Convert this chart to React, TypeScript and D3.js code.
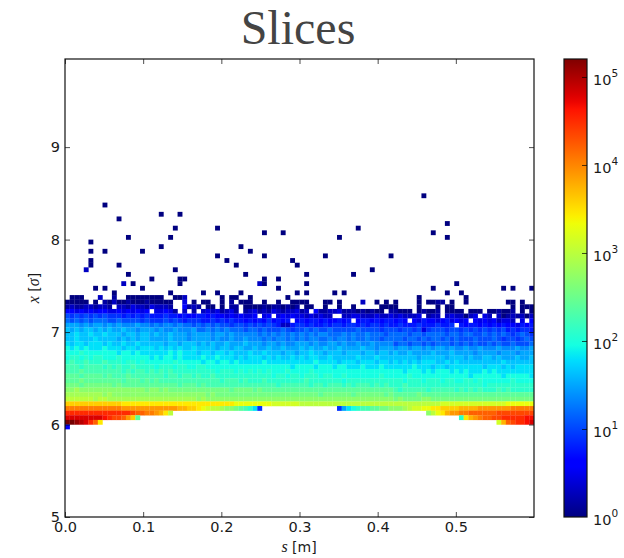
import React, { useRef, useEffect } from 'react';
import * as d3 from 'd3';

const sTicks = [0, 0.1, 0.2, 0.3, 0.4, 0.5];
const xTicks = [5, 6, 7, 8, 9];
const cbarTicks = [1, 10, 100, 1000, 10000, 100000];

// bin sizes of the histogram
const sBin = 0.006;
const xBin = 0.05;
const xFirst = 5;

// dense part of the histogram, top row first. one char per column, level = log10(count)/0.15, '.' = empty
const topDenseRow = 47;
const denseRows = [
  '.000...2.. 1..0000000 0..002.... ...0.00..0 .......0.. .......... .......... .....0.... .....0.... ..........',
  '00000.0.10 2001000100 000..3.0.0 0..0.1.000 ..0..0..00 00...00.0. ...2..0.0. 0....0.001 1.0..0.... ....00.0..',
  '1211221221 .221322132 221..4121. 00.0.11.00 0010110101 .00..0..0. .0.....000 0....0...0 .00....... .....0.000',
  '4434343443 34343434.3 3431.2.1.2 3231231.12 3121321223 12.4112231 11010100.1 1000.01001 .0000.000. 001001.0.0',
  '7676767676 6656565655 5655454455 4544343433 4.34.34343 3232322..2 2332223223 232223.122 .2322023.3 2.20121202',
  '8787878887 7877776766 6767656665 5656565545 45464545.4 5455454454 5.45545455 454.435443 453434.434 342332.3.4',
  'aaa9a9aa9a 9a999a9989 8998988787 8787767767 6767652256 6565565665 6656566565 5655565556 556.545545 4545443545',
  'bababbabab aabaa9aaa9 a99a999a88 9898988878 8787778767 7878778777 7787777677 7677673677 7677676767 6767565665',
  'bbcbbcbbcb bbabbabbab aabaaa9aaa a9aa9a9999 9898989898 9898998889 8988988878 8887887888 8788788778 7878767876',
  'bbcbbbcbbb babababbaa aabaaa9aaa a9a99a99a9 9989899898 9899889899 8988988788 8878878788 7878777877 7876776787',
  'cbccbcccbc bbcbbcbbbb babbabbbab abaabaaaba aa9aa9a99a aa9a99aa9a 99a99a9999 7887887878 8878787877 8787787778',
  'dcdcdcccdc ccbccbcccb cbcbcbbcbb bbabbabbaa baabaabaaa babaabaaba aaabaa9aaa 9aa9aa9a9a a9a99a99a9 99a999a99a',
  'dddedddddd dcddcdcccc ccdcdcccbc cbccbcbbbc bbcbbbabba bbcbbabbba bbbabbabba baabaaaaba aabaaaa9aa aa9aaa9aaa',
  'deededeedd deddddddcd cddcdccccd ccdcccbcbc ccbcbcbbcb cbccbbcbbb bbcbbbcbbb bbbbbabbbb babbbabaab babaaabaab',
  'efeefeeefe eedeededdd dddedddddc ddcddcdccc ccdccccccc cccdccccbc ccbcccbccb cbcbcbcccb bcbcbbbbbb bbbcbbbbbb',
  'fffeffffef efeefeeeed eeedeeddee dddddddddd ddddddddcd dddcdddcdd cccdcccdcc ccccdcccbc cbcccccccb cccbcbcccc',
  'fffgffffff ffefeffefe fefeeeeeee eedeeedede dededddedd ddeddddddd dddddddddd ddcdddcdcd ddcdcdcccd cdcccccccc',
  'gggfggggfg fffgffffff feffeffefe efeeeeeeee eeeedeedee deeedeedde dddddddedd dddedddddd ddddddcddd dddcdddddc',
  'ggghgggggg ggfgggfgfg ffffffffff fffefffefe eefeeeeeee efeeeeeeed eeeeeeeeee eedeeedeee deeddeeded dddddedddd',
  'hhhghhhhhh ghgggggggg ggggfgggfg ffffffffff fffffeffff ffeffefffe fefffefefe eefeeeeeee eeeeeeeeed eeeeeeeeee',
  'iijiiiiiii iiiiiiihii hihhhhhhhh hhhhhghhhh ghgggggggg gggggggggg gggggggggg fefffffeff fffefefefe eefefeeeee',
  'jjjjjjjjij iiiiiiiiii iiiiiiiiii hihhhhhhhh hhhhhhhhhh hhhhghhhhh hghhhhhhgh ggggghgggg gggggggggg gggggggggg',
  'kkkkkkjkkj jjjjjjjjjj jjjjjjjjij iiiiiiiiii iiiiiiiiii iiiiiiiiii iiiiiiiiii hihhhhiihh hhhhhhhhhh hhhhhhhhhh',
  'oooooooooo oonnnnnnnn nnnnnnnnnn nnnnnnmmmm mmmmllllll kkkkkkkkkk kkkkkkkkkk kkkkkkkkkk llllllllll llllmmmmmm',
  'rrrrrrrrrr rrqqqqqqqq qqqqppoonm lkkjiihgfe c6........ ........6a cdeffgghhi iijkllmmnn ooooppppqq qqqqqrrrrr',
  'uuuuuuuuuu uuuutssrrq pnk....... .......... .......... .......... .......... .......ikm npqqrrssss sstttttttt',
  'wwwwwwwwvu ttsqog.... .......... .......... .......... .......... .......... .......... ....enpqrs sttuuuuuvv',
  'zzyxwusn.. .......... .......... .......... .......... .......... .......... .......... .......... ..lpstuuvw',
  '4......... .......... .......... .......... .......... .......... .......... .......... .......... ..........',
];

// single counts above the band: [row, columns]
const sparseRows: [number, number[]][] = [
  [69, [76]],
  [67, [8]],
  [65, [20, 24]],
  [64, [11]],
  [63, [81]],
  [62, [23, 32, 62]],
  [61, [42, 46, 78]],
  [60, [13, 22, 58, 81]],
  [59, [5]],
  [58, [20, 37]],
  [57, [5, 8, 16, 39]],
  [56, [32, 42, 55, 69]],
  [55, [5, 34, 48]],
  [54, [5, 11, 36, 49]],
  [53, [4, 23, 65]],
  [52, [13, 38, 51, 61]],
  [51, [18, 24, 25, 42, 45]],
  [50, [12, 14, 24, 41, 42, 51, 83]],
  [49, [6, 8, 16, 45, 78, 93, 95, 99]],
  [48, [10, 22, 29, 32, 37, 49, 51, 57, 59, 81, 84]],
];
// the few that read a little brighter: [row, column]
const sparseTwos = ['53,4', '50,41', '50,12'];

const levelChars = '0123456789abcdefghijklmnopqrstuvwxyz';
const levelToCount = (l: number) => Math.pow(10, l * 0.15);

// matplotlib jet
const jetR = d3.scaleLinear([0, 0.35, 0.66, 0.89, 1], [0, 0, 1, 1, 0.5]);
const jetG = d3.scaleLinear([0, 0.125, 0.375, 0.64, 0.91, 1], [0, 0, 1, 1, 0, 0]);
const jetB = d3.scaleLinear([0, 0.11, 0.34, 0.65, 1], [0.5, 1, 1, 0, 0]);
const jet = (t: number) =>
  d3.rgb(jetR(t) * 255, jetG(t) * 255, jetB(t) * 255).formatRgb();

export default function App() {
  const svgRef = useRef<SVGSVGElement>(null);

  useEffect(() => {
    const margin = { top: 59, left: 65, right: 534, bottom: 517 };
    const svg = d3.select(svgRef.current);
    svg.selectAll('*').remove();

    const x = d3.scaleLinear().domain([0, 0.6]).range([margin.left, margin.right]);
    const y = d3.scaleLinear().domain([5, 9.953]).range([margin.bottom, margin.top]);
    const t = d3.scaleLog().domain([1, 160000]).range([0, 1]);
    const c = d3.scaleLog().domain([1, 160000]).range([margin.bottom, margin.top]);

    const cells: { col: number; row: number; count: number }[] = [];
    denseRows.forEach((s, i) => {
      s.replace(/ /g, '').split('').forEach((ch, col) => {
        if (ch !== '.') {
          cells.push({ col, row: topDenseRow - i, count: levelToCount(levelChars.indexOf(ch)) });
        }
      });
    });
    sparseRows.forEach(([row, cols]) => {
      cols.forEach((col) => {
        cells.push({ col, row, count: sparseTwos.includes(row + ',' + col) ? 2 : 1 });
      });
    });

    const defs = svg.append('defs');
    defs.append('filter').attr('id', 'soft')
      .attr('x', '-2%').attr('y', '-2%').attr('width', '104%').attr('height', '104%')
      .append('feGaussianBlur').attr('stdDeviation', 0.3);
    defs.append('clipPath').attr('id', 'plotClip').append('rect')
      .attr('x', margin.left).attr('y', margin.top)
      .attr('width', margin.right - margin.left).attr('height', margin.bottom - margin.top);

    // heat map
    svg.append('g')
      .attr('clip-path', 'url(#plotClip)')
      .append('g')
      .attr('filter', 'url(#soft)')
      .selectAll('rect')
      .data(cells)
      .join('rect')
      .attr('x', (d) => x(d.col * sBin))
      .attr('y', (d) => y(xFirst + (d.row + 1) * xBin))
      .attr('width', x(sBin) - x(0) + 0.2)
      .attr('height', y(xFirst) - y(xFirst + xBin) + 0.2)
      .attr('fill', (d) => jet(t(d.count)));

    const font = "'DejaVu Sans', sans-serif";
    const styleAxis = (g: any) => {
      g.selectAll('path').remove();
      g.selectAll('line').attr('stroke', '#000').attr('stroke-width', 0.7);
      g.selectAll('text')
        .attr('fill', '#1a1a1a')
        .style('font-family', font)
        .style('font-size', '14.5px');
    };

    // ticks point inwards on all four sides
    svg.append('g').attr('transform', `translate(0,${margin.bottom})`)
      .call(d3.axisBottom(x).tickValues(sTicks).tickSize(-5).tickPadding(5).tickFormat(d3.format('.1f') as any))
      .call(styleAxis);
    svg.append('g').attr('transform', `translate(0,${margin.top})`)
      .call(d3.axisTop(x).tickValues(sTicks).tickSize(-5).tickFormat(() => ''))
      .call(styleAxis);
    svg.append('g').attr('transform', `translate(${margin.left},0)`)
      .call(d3.axisLeft(y).tickValues(xTicks).tickSize(-5).tickPadding(5).tickFormat(d3.format('d') as any))
      .call(styleAxis);
    svg.append('g').attr('transform', `translate(${margin.right},0)`)
      .call(d3.axisRight(y).tickValues(xTicks).tickSize(-5).tickFormat(() => ''))
      .call(styleAxis);

    svg.append('rect')
      .attr('x', margin.left).attr('y', margin.top)
      .attr('width', margin.right - margin.left).attr('height', margin.bottom - margin.top)
      .attr('fill', 'none').attr('stroke', '#111').attr('stroke-width', 1.2);

    // title and axis labels
    svg.append('text')
      .attr('x', 298).attr('y', 43.5).attr('text-anchor', 'middle')
      .attr('fill', '#444')
      .style('font-family', "'Liberation Serif', serif")
      .style('font-size', '48px')
      .text('Slices');

    const italic = (sel: any, s: string) =>
      sel.append('tspan')
        .style('font-family', "'Liberation Serif', serif")
        .style('font-style', 'italic')
        .style('font-size', '16px')
        .text(s);

    const xLabel = svg.append('text')
      .attr('x', 299).attr('y', 552).attr('text-anchor', 'middle')
      .attr('fill', '#1a1a1a')
      .style('font-family', font).style('font-size', '14px');
    italic(xLabel, 's');
    xLabel.append('tspan').text(' [m]');

    const yLabel = svg.append('text')
      .attr('transform', 'translate(39,288) rotate(-90)').attr('text-anchor', 'middle')
      .attr('fill', '#1a1a1a')
      .style('font-family', font).style('font-size', '14px');
    italic(yLabel, 'x');
    yLabel.append('tspan').text(' [');
    italic(yLabel, 'σ');
    yLabel.append('tspan').text(']');

    // colorbar
    const cbarX = 564;
    const cbarW = 23;
    const stops = d3.range(0, 1.0001, 1 / 64);
    const grad = defs.append('linearGradient').attr('id', 'cbarJet')
      .attr('x1', 0).attr('x2', 0).attr('y1', 1).attr('y2', 0);
    grad.selectAll('stop').data(stops).join('stop')
      .attr('offset', (d) => d)
      .attr('stop-color', (d) => jet(d));
    svg.append('rect')
      .attr('x', cbarX).attr('y', margin.top)
      .attr('width', cbarW).attr('height', margin.bottom - margin.top)
      .attr('fill', 'url(#cbarJet)')
      .attr('stroke', '#111').attr('stroke-width', 1.2);

    const cbarAxis = svg.append('g').attr('transform', `translate(${cbarX + cbarW},0)`)
      .call(d3.axisRight(c).tickValues(cbarTicks).tickSize(-5).tickFormat(() => ''))
      .call(styleAxis);
    cbarAxis.selectAll('line').filter((d: any) => d === 1).remove();

    const cbarLabels = svg.append('g').selectAll('text').data(cbarTicks).join('text')
      .attr('x', cbarX + cbarW + 6)
      .attr('y', (d) => c(d) + 8)
      .attr('fill', '#1a1a1a')
      .style('font-family', font)
      .style('font-size', '14.5px');
    cbarLabels.append('tspan').text('10');
    cbarLabels.append('tspan')
      .attr('dy', -8).style('font-size', '10.5px')
      .text((d) => String(Math.round(Math.log10(d))));
  }, []);

  return <svg ref={svgRef} width={624} height={558} style={{ position: 'absolute', left: 0, top: 0, background: '#fff' }} />;
}
